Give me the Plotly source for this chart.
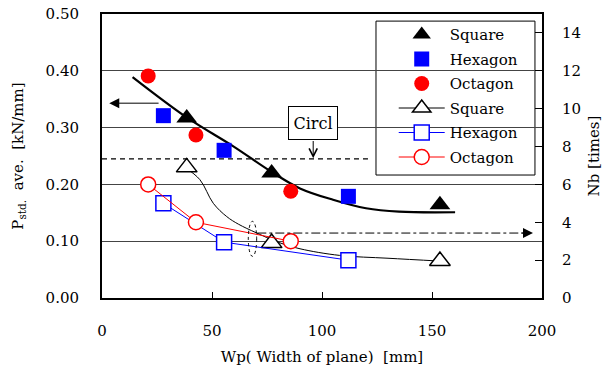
import plotly.graph_objects as go

# ---- data ----
# filled markers: P_std. ave. [kN/mm] (left axis)
sq_x = [38.5, 77.1, 153.6]
sq_p = [0.317, 0.220, 0.164]
hx_x = [27.9, 55.5, 112.0]
hx_p = [0.321, 0.260, 0.179]
oc_x = [21.0, 42.7, 85.8]
oc_p = [0.391, 0.287, 0.188]

# open markers: Nb [times] (right axis)
sq_nb = [6.9, 2.9, 1.95]
hx_nb = [5.0, 2.95, 2.0]
oc_nb = [6.0, 4.0, 3.0]

# smoothed trend of P (thick black curve)
trend_x = [13.9, 38.5, 59.7, 77.1, 90.0, 105.0, 120.0, 135.0, 160.5]
trend_p = [0.389, 0.318, 0.267, 0.222, 0.193, 0.173, 0.158, 0.152, 0.151]

# smoothed trend of Nb for Square (thin black curve)
sqline_x = [37.7, 44.5, 50.6, 56.7, 62.0, 70.0, 80.0, 90.0, 108.0, 130.0, 153.6]
sqline_nb = [6.9, 6.25, 5.0, 4.3, 3.9, 3.45, 2.95, 2.6, 2.25, 2.1, 1.95]

circle_level = 0.245   # dashed line (Circle)

FONT = "DejaVu Serif"
FS = 15

fig = go.Figure()
fig.add_trace(go.Scatter(x=trend_x, y=trend_p, mode="lines", line=dict(color="black", width=2.2, shape="spline"),
                         showlegend=False, hoverinfo="skip"))
fig.add_trace(go.Scatter(x=sqline_x, y=sqline_nb, yaxis="y2", mode="lines",
                         line=dict(color="black", width=1, shape="spline"), showlegend=False, hoverinfo="skip"))
fig.add_trace(go.Scatter(x=sq_x, y=sq_p, mode="markers", name="Square", legendgroup="g1",
                         marker=dict(symbol="triangle-up", size=18, color="black")))
fig.add_trace(go.Scatter(x=hx_x, y=hx_p, mode="markers", name="Hexagon", legendgroup="g2",
                         marker=dict(symbol="square", size=15, color="#0000ff")))
fig.add_trace(go.Scatter(x=oc_x, y=oc_p, mode="markers", name="Octagon", legendgroup="g3",
                         marker=dict(symbol="circle", size=15, color="#ff0000")))
sq_open_marker = dict(symbol="triangle-up", size=18, color="white", line=dict(color="black", width=1.5))
fig.add_trace(go.Scatter(x=sq_x, y=sq_nb, yaxis="y2", mode="markers", name="Square", legendgroup="g4",
                         marker=sq_open_marker, showlegend=False))
fig.add_trace(go.Scatter(x=[None], y=[None], yaxis="y2", mode="lines+markers", name="Square", legendgroup="g4",
                         line=dict(color="black", width=1), marker=sq_open_marker))
fig.add_trace(go.Scatter(x=hx_x, y=hx_nb, yaxis="y2", mode="lines+markers", name="Hexagon", legendgroup="g5",
                         line=dict(color="#0000ff", width=1),
                         marker=dict(symbol="square", size=15, color="white", line=dict(color="#0000ff", width=1.5))))
fig.add_trace(go.Scatter(x=oc_x, y=oc_nb, yaxis="y2", mode="lines+markers", name="Octagon", legendgroup="g6",
                         line=dict(color="#ff0000", width=1),
                         marker=dict(symbol="circle", size=15, color="white", line=dict(color="#ff0000", width=1.5))))

shapes = [
    dict(type="line", xref="x", yref="y", x0=0, x1=120.9, y0=circle_level, y1=circle_level,
         line=dict(color="black", width=1.2, dash="5px,4px")),
    dict(type="circle", xref="x", yref="y2", x0=66.5, x1=70.3, y0=2.2, y1=4.05,
         line=dict(color="black", width=1, dash="dot")),
    dict(type="line", xref="x", yref="y2", x0=70.6, x1=192, y0=3.43, y1=3.43,
         line=dict(color="black", width=1, dash="dashdot")),
    dict(type="rect", xref="paper", yref="paper", x0=0.6227, x1=0.984, y0=0.433, y1=0.975,
         line=dict(color="black", width=1), fillcolor="white", layer="between"),
]

annotations = [
    dict(text="Circl", x=96, y=0.3086, xref="x", yref="y", showarrow=False,
         font=dict(family=FONT, size=16, color="black"), bgcolor="white",
         bordercolor="black", borderwidth=1, width=48, height=32, borderpad=0),
    dict(text="", x=96, y=0.246, xref="x", yref="y", ax=96, ay=0.279, axref="x", ayref="y",
         showarrow=True, arrowhead=5, arrowsize=1.6, arrowwidth=1, arrowcolor="black"),
    dict(text="", x=3.3, y=0.343, xref="x", yref="y", ax=26.4, ay=0.343, axref="x", ayref="y",
         showarrow=True, arrowhead=2, arrowsize=2, arrowwidth=1, arrowcolor="black"),
    dict(text="", x=195.9, y=3.43, xref="x", yref="y2", ax=190, ay=3.43, axref="x", ayref="y2",
         showarrow=True, arrowhead=2, arrowsize=2, arrowwidth=1, arrowcolor="black"),
]

fig.update_layout(
    width=615, height=376,
    margin=dict(l=102, r=73, t=14, b=78, pad=0, autoexpand=False),
    paper_bgcolor="white", plot_bgcolor="white",
    font=dict(family=FONT, size=FS, color="black"),
    showlegend=True,
    legend=dict(x=0.663, y=0.985, xanchor="left", yanchor="top", bgcolor="rgba(0,0,0,0)",
                borderwidth=0, font=dict(family=FONT, size=FS), itemwidth=46,
                traceorder="grouped", tracegroupgap=2),
    xaxis=dict(range=[0, 200], dtick=50, showgrid=False, zeroline=False, automargin=False,
               showline=True, linecolor="black", linewidth=2, mirror=True,
               ticks="inside", ticklen=6, tickcolor="black",
               ticklabelstandoff=18,
               title=dict(text="Wp( Width of plane)  [mm]", standoff=12, font=dict(size=FS))),
    yaxis=dict(range=[0, 0.5], dtick=0.1, tickformat=".2f", showgrid=True, gridcolor="#444",
               gridwidth=1, zeroline=False, showline=True, linecolor="black", linewidth=2,
               ticks="", ticklabelstandoff=18, automargin=False,
               title=dict(text="P<sub>std.</sub>  ave.  [kN/mm]", standoff=18, font=dict(size=FS))),
    yaxis2=dict(range=[0, 15], dtick=2, overlaying="y", side="right", showgrid=False, zeroline=False,
                showline=True, linecolor="black", linewidth=2, ticks="inside", ticklen=7,
                tickcolor="black", ticklabelstandoff=15, automargin=False,
                title=dict(text="Nb [times]", standoff=8, font=dict(size=FS))),
    shapes=shapes,
    annotations=annotations,
)

fig.write_html("out.html", config={"displayModeBar": False},
               post_script="document.body.style.margin='0';")
